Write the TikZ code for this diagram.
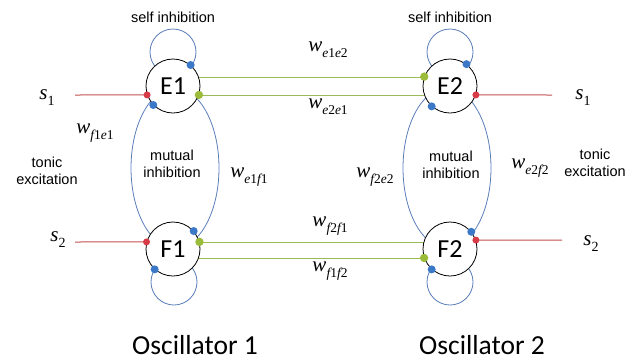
\documentclass[tikz,border=0pt]{standalone}
\usepackage{fontspec}
\setmainfont{Liberation Serif}
\newfontfamily\arialf{Liberation Sans}
\newfontfamily\calib{Carlito}
\newfontfamily\timesf{Liberation Serif}
\definecolor{redl}{HTML}{C0504D}
\definecolor{redd}{HTML}{D83A48}
\definecolor{greenl}{HTML}{9BBB59}
\definecolor{greend}{HTML}{9BBB3A}
\definecolor{bluel}{HTML}{5A7DB8}
\definecolor{blued}{HTML}{3C78C8}
\newcommand{\wlab}[4]{{\timesf\fontsize{21}{21}\selectfont\itshape w\raisebox{-6pt}{\fontsize{13.5}{13.5}\selectfont #1\upshape#2\itshape #3\upshape#4}}}
\newcommand{\slab}[1]{{\timesf\fontsize{21}{21}\selectfont\itshape s\raisebox{-6pt}{\upshape\fontsize{14}{14}\selectfont #1}}}
\tikzset{
  neuron/.style={circle, draw=black, line width=0.8pt, fill=white, minimum size=54pt, inner sep=0pt, font=\calib\fontsize{26}{26}\selectfont},
  smalltext/.style={font=\arialf\fontsize{14.5}{17.5}\selectfont, align=center, inner sep=0pt},
  osc/.style={font=\calib\fontsize{27.5}{27.5}\selectfont, inner sep=0pt},
  lab/.style={inner sep=0pt},
  inhib/.style={draw=bluel, line width=0.8pt},
  excline/.style={draw=greenl, line width=1pt},
  inpline/.style={draw=redl, line width=1pt},
  bdot/.style={fill=blued, draw=none},
  gdot/.style={fill=greend, draw=none},
  rdot/.style={fill=redd, draw=none}
}
\begin{document}
\begin{tikzpicture}[x=1pt,y=-1pt]
\useasboundingbox (0,0) rectangle (635,360);
% centres
\coordinate (cE1) at (173,86);
\coordinate (cE2) at (450,86);
\coordinate (cF1) at (173,249);
\coordinate (cF2) at (450,249);
% self inhibition loops
\draw[inhib] (173,52) circle[radius=23pt];
\draw[inhib] (450,52) circle[radius=23pt];
\draw[inhib] (174,282) circle[radius=23pt];
\draw[inhib] (450,282) circle[radius=23pt];
% mutual inhibition
\draw[inhib] (175,168) ellipse[x radius=44pt, y radius=80pt];
\draw[inhib] (447,168) ellipse[x radius=44pt, y radius=80pt];
% coupling lines
\draw[excline] ([yshift=9pt]cE1) -- ([yshift=9pt]cE2);
\draw[excline] ([yshift=-9pt]cE1) -- ([yshift=-9pt]cE2);
\draw[excline] ([yshift=7pt]cF1) -- ([yshift=7pt]cF2);
\draw[excline] ([yshift=-9pt]cF1) -- ([yshift=-9pt]cF2);
% neurons
\node[neuron] (E1) at (cE1) {E1};
\node[neuron] (E2) at (cE2) {E2};
\node[neuron] (F1) at (cF1) {F1};
\node[neuron] (F2) at (cF2) {F2};
% inputs
\coordinate (s1l) at (75,95);
\coordinate (s2l) at (75,242);
\coordinate (s1r) at (552,95);
\coordinate (s2r) at (562,240);
\draw[inpline] (s1l) -- (E1.199.5);
\draw[inpline] (s2l) -- (F1.165);
\draw[inpline] (s1r) -- (E2.-19.5);
\draw[inpline] (s2r) -- (F2.19.5);
% dots
\foreach \p in {E1.50, E1.224, F1.41, F1.228, E2.53, E2.228, F2.39, F2.228}
  \fill[bdot] (\p) circle[radius=4pt];
\foreach \p in {E1.-19.5, E2.160.5, F1.15, F2.199.5}
  \fill[gdot] (\p) circle[radius=4.2pt];
\foreach \p in {E1.199.5, F1.165, E2.-19.5, F2.19.5}
  \fill[rdot] (\p) circle[radius=3.5pt];
% texts
\node[smalltext] (si1) at (173,17) {self inhibition};
\node[smalltext] (si2) at (450,17) {self inhibition};
\node[smalltext] (mi1) at (172,164) {mutual\\inhibition};
\node[smalltext] (mi2) at (451,165) {mutual\\inhibition};
\node[smalltext] (te1) at (47,171) {tonic\\excitation};
\node[smalltext] (te2) at (595,163) {tonic\\excitation};
\node[osc] (o1) at (195,345) {Oscillator 1};
\node[osc] (o2) at (482,345) {Oscillator 2};
% weights
\node[lab] (w1) at (328,50) {\wlab{e}{1}{e}{2}};
\node[lab] (w2) at (328,107) {\wlab{e}{2}{e}{1}};
\node[lab] (w3) at (330,226) {\wlab{f}{2}{f}{1}};
\node[lab] (w4) at (330,271) {\wlab{f}{1}{f}{2}};
\node[lab] (w5) at (95,133) {\wlab{f}{1}{e}{1}};
\node[lab] (w6) at (249,177) {\wlab{e}{1}{f}{1}};
\node[lab] (w7) at (375,177) {\wlab{f}{2}{e}{2}};
\node[lab] (w8) at (530,168) {\wlab{e}{2}{f}{2}};
% inputs labels
\node[lab] (sl1) at (47,98) {\slab{1}};
\node[lab] (sl2) at (58,240) {\slab{2}};
\node[lab] (sr1) at (583,98) {\slab{1}};
\node[lab] (sr2) at (591,244) {\slab{2}};
\end{tikzpicture}
\end{document}
